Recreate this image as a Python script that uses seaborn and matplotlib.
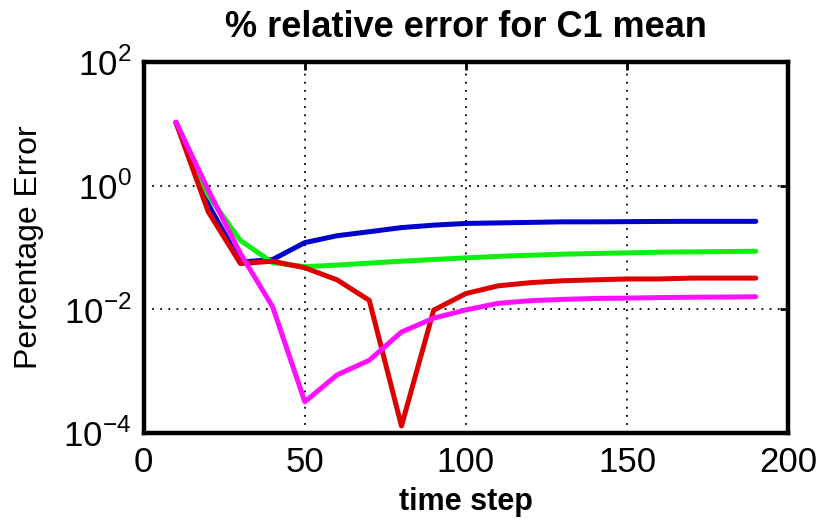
import numpy as np
import pandas as pd
import matplotlib
matplotlib.use("Agg")
import matplotlib.pyplot as plt
import seaborn as sns
from matplotlib.ticker import NullLocator, FixedLocator

time_step = [10, 20, 30, 40, 50, 60, 70, 80, 90, 100, 110, 120, 130, 140, 150, 160, 170, 180, 190]

blue = [10.5, 0.5, 0.058, 0.064, 0.12, 0.155, 0.18, 0.21, 0.23, 0.245, 0.25, 0.255,
        0.26, 0.26, 0.262, 0.264, 0.265, 0.265, 0.265]
green = [10.5, 0.7, 0.13, 0.057, 0.049, 0.052, 0.056, 0.060, 0.064, 0.068, 0.072,
         0.075, 0.078, 0.080, 0.082, 0.084, 0.085, 0.086, 0.087]
red = [10.5, 0.38, 0.055, 0.06, 0.047, 0.030, 0.014, 1.3e-4, 0.0097, 0.018, 0.024,
       0.027, 0.029, 0.030, 0.031, 0.031, 0.032, 0.032, 0.032]
magenta = [10.7, 0.85, 0.08, 0.011, 3.2e-4, 8.7e-4, 1.5e-3, 4.3e-3, 7.2e-3, 0.0098,
           0.0125, 0.0138, 0.0145, 0.015, 0.0152, 0.0155, 0.0157, 0.0158, 0.016]

series_names = ["s1", "s2", "s3", "s4"]
series_values = [blue, green, red, magenta]
colors = ["#0000cc", "#11ee11", "#dd0000", "#ff11ff"]

x_ticks = [0, 50, 100, 150, 200]
y_ticks = [1e-4, 1e-2, 1e0, 1e2]
y_tick_labels = [r"$10^{-4}$", r"$10^{-2}$", r"$10^{0}$", r"$10^{2}$"]

df = pd.concat([pd.DataFrame({"time step": time_step, "err": v, "series": n})
                for n, v in zip(series_names, series_values)], ignore_index=True)

sns.set_theme(style="white")
plt.rcParams["font.family"] = ["Liberation Sans", "DejaVu Sans"]
plt.rcParams["mathtext.fontset"] = "custom"
plt.rcParams["mathtext.rm"] = "Liberation Sans"
plt.rcParams["text.color"] = "black"
plt.rcParams["axes.labelcolor"] = "black"

fig = plt.figure(figsize=(8.17, 5.19), dpi=100)
ax = fig.add_axes([0.176, 0.1657, 0.7885, 0.7148])

sns.lineplot(data=df, x="time step", y="err", hue="series", palette=colors,
             linewidth=3.6, legend=False, ax=ax, sort=False)

ax.set_yscale("log")
ax.set_xlim(0, 200)
ax.set_ylim(1e-4, 1e2)
ax.xaxis.set_major_locator(FixedLocator(x_ticks))
ax.yaxis.set_major_locator(FixedLocator(y_ticks))
ax.yaxis.set_minor_locator(NullLocator())
ax.set_yticklabels(y_tick_labels)

ax.grid(True, which="major", color="black", linestyle=(0, (1, 3.5)), linewidth=1.3)
for s in ax.spines.values():
    s.set_color("black")
    s.set_linewidth(3.2)
ax.tick_params(axis="both", which="major", direction="in", length=6, width=2,
               labelsize=25, colors="black", top=True, right=True, pad=9)

ax.set_xlabel("time step", fontsize=22, fontweight="bold", labelpad=6)
ax.set_ylabel("Percentage Error", fontsize=23, labelpad=14)
ax.set_title("% relative error for C1 mean", fontsize=26, fontweight="bold", pad=18)

fig.savefig("out.png", dpi=100, facecolor="white")
